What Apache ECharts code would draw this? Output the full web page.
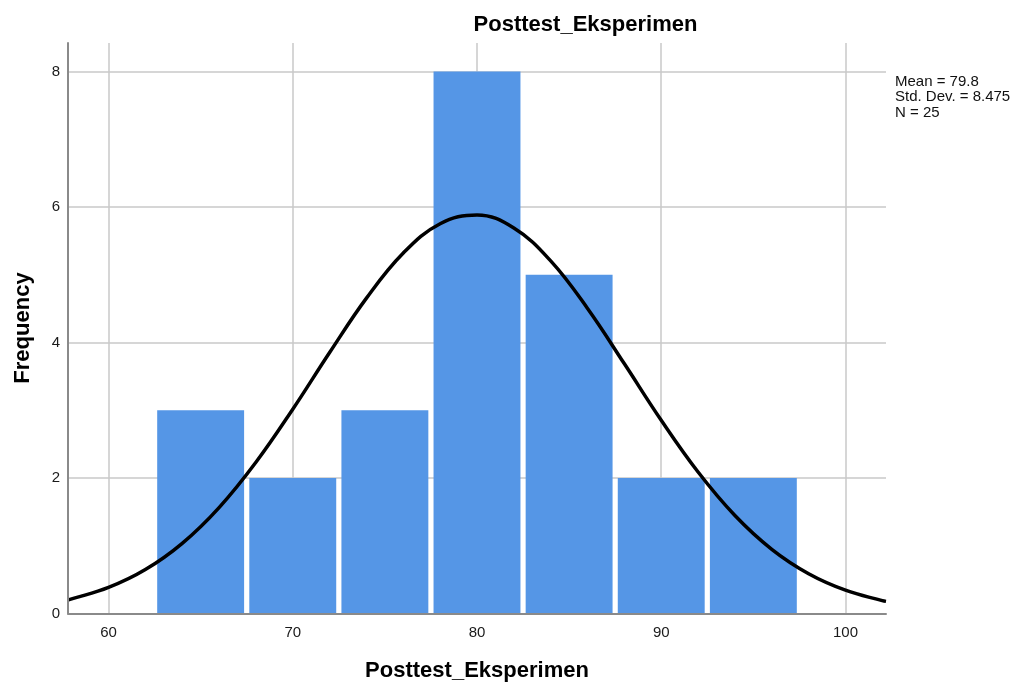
<!DOCTYPE html>
<html>
<head>
<meta charset="utf-8">
<script src="https://cdn.jsdelivr.net/npm/echarts@6/dist/echarts.min.js"></script>
<style>html,body{margin:0;padding:0;background:#fff}#c{width:1016px;height:686px}</style>
</head>
<body>
<div id="c"></div>
<script>
var chartTitle = 'Posttest_Eksperimen';
var xTitle = 'Posttest_Eksperimen';
var yTitle = 'Frequency';
var statsLines = ['Mean = 79.8', 'Std. Dev. = 8.475', 'N = 25'];
var binEdges = [62.5, 67.5, 72.5, 77.5, 82.5, 87.5, 92.5, 97.5];
var counts = [3, 2, 3, 8, 5, 2, 2];
var xTicks = [60, 70, 80, 90, 100];
var yTicks = [0, 2, 4, 6, 8];
var curveX = [57.8, 58, 60, 62, 64, 66, 68, 70, 72, 74, 76, 78, 80, 82, 84, 86, 88, 90, 92, 94, 96, 98, 100, 102, 102.2];
var curveY = [0.20, 0.215, 0.384, 0.648, 1.035, 1.563, 2.232, 3.015, 3.852, 4.655, 5.321, 5.753, 5.882, 5.689, 5.204, 4.502, 3.685, 2.852, 2.088, 1.446, 0.947, 0.587, 0.344, 0.190, 0.179];

var FONT = '"Liberation Sans", Arial, sans-serif';
var barData = counts.map(function (c, i) { return [binEdges[i], binEdges[i + 1], c]; });
var curveData = curveX.map(function (x, i) { return [x, curveY[i]]; });
var gridLines = xTicks.map(function (v) { return { xAxis: v }; })
  .concat(yTicks.filter(function (v) { return v > 0; }).map(function (v) { return { yAxis: v }; }));

var chart = echarts.init(document.getElementById('c'), null, { renderer: 'canvas' });
chart.setOption({
  animation: false,
  backgroundColor: '#fff',
  grid: { left: 68, right: 130, top: 43, bottom: 72.5, containLabel: false },
  xAxis: {
    type: 'value', min: 57.8, max: 102.2, z: 20,
    axisLine: { show: true, onZero: false, lineStyle: { color: '#8a8a8a', width: 2 } },
    axisTick: { show: false },
    splitLine: { show: false },
    axisLabel: { customValues: xTicks, color: '#1a1a1a', fontSize: 15, fontFamily: FONT, margin: 12 }
  },
  yAxis: {
    type: 'value', min: 0, max: 8.42, z: 20,
    axisLine: { show: true, lineStyle: { color: '#8a8a8a', width: 2 } },
    axisTick: { show: false },
    splitLine: { show: false },
    axisLabel: { customValues: yTicks, color: '#1a1a1a', fontSize: 15, fontFamily: FONT, margin: 8 }
  },
  series: [
    {
      type: 'line', data: [], z: 1, silent: true,
      markLine: {
        z: 1,
        silent: true, symbol: ['none', 'none'], animation: false,
        label: { show: false },
        lineStyle: { color: '#c9c9c9', width: 1.5, type: 'solid' },
        emphasis: { disabled: true },
        data: gridLines
      }
    },
    {
      type: 'custom', z: 10, silent: true,
      encode: { x: [0, 1], y: 2 },
      data: barData,
      renderItem: function (params, api) {
        var p0 = api.coord([api.value(0), api.value(2)]);
        var p1 = api.coord([api.value(1), 0]);
        var inset = 2.6;
        return {
          type: 'rect',
          shape: { x: p0[0] + inset, y: p0[1], width: p1[0] - p0[0] - 2 * inset, height: p1[1] - p0[1] },
          style: { fill: '#5596e6' }
        };
      }
    },
    {
      type: 'line', z: 12, silent: true, data: curveData,
      smooth: 0.4, showSymbol: false, symbol: 'none',
      lineStyle: { color: '#000', width: 3.5 }
    }
  ],
  graphic: [
    { type: 'text', x: 585.5, y: 25, style: { text: chartTitle, font: 'bold 22px ' + FONT, fill: '#000', align: 'center', verticalAlign: 'middle' } },
    { type: 'text', x: 477, y: 671, style: { text: xTitle, font: 'bold 22px ' + FONT, fill: '#000', align: 'center', verticalAlign: 'middle' } },
    { type: 'text', x: 22.5, y: 328, rotation: Math.PI / 2, style: { text: yTitle, font: 'bold 22px ' + FONT, fill: '#000', align: 'center', verticalAlign: 'middle' } },
    { type: 'text', x: 895, y: 74, style: { text: statsLines.join('\n'), font: '15px ' + FONT, fill: '#111', lineHeight: 15.5, align: 'left', verticalAlign: 'top' } }
  ]
});
</script>
</body>
</html>
